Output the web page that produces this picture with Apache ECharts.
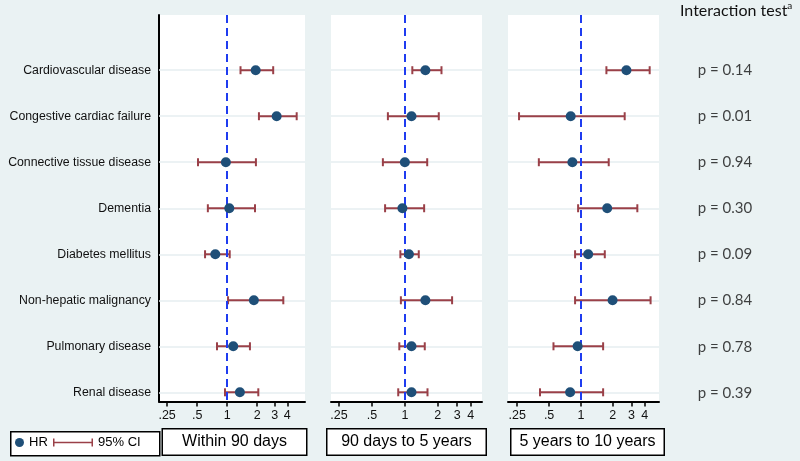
<!DOCTYPE html>
<html>
<head>
<meta charset="utf-8">
<script src="https://cdn.jsdelivr.net/npm/echarts@6/dist/echarts.min.js"></script>
<style>
  html, body { margin: 0; padding: 0; background: #eaf2f3; }
  #chart { width: 800px; height: 461px; }
</style>
</head>
<body>
<div id="chart"></div>
<script>
const categories = ['Cardiovascular disease', 'Congestive cardiac failure', 'Connective tissue disease',
  'Dementia', 'Diabetes mellitus', 'Non-hepatic malignancy', 'Pulmonary disease', 'Renal disease']
const panelNames = ['Within 90 days', '90 days to 5 years', '5 years to 10 years']

// hazard ratios and 95% CI per period
const hr90d = [1.93, 3.13, 0.97, 1.05, 0.76, 1.85, 1.15, 1.34]
const lo90d = [1.36, 2.08, 0.51, 0.64, 0.60, 1.02, 0.79, 0.95]
const hi90d = [2.89, 4.97, 1.94, 1.90, 1.06, 3.65, 1.69, 2.05]
const hr5y = [1.54, 1.15, 1.00, 0.95, 1.09, 1.54, 1.15, 1.15]
const lo5y = [1.17, 0.70, 0.63, 0.66, 0.91, 0.92, 0.89, 0.87]
const hi5y = [2.16, 2.04, 1.60, 1.50, 1.34, 2.70, 1.52, 1.61]
const hr10y = [2.69, 0.80, 0.83, 1.77, 1.17, 1.99, 0.93, 0.79]
const lo10y = [1.74, 0.26, 0.40, 0.94, 0.88, 0.88, 0.55, 0.41]
const hi10y = [4.46, 2.59, 1.83, 3.41, 1.68, 4.55, 1.62, 1.62]

const pValues = ['0.14', '0.01', '0.94', '0.30', '0.09', '0.84', '0.78', '0.39']

const tickValues = [0.25, 0.5, 1, 2, 3, 4]
const tickLabels = ['.25', '.5', '1', '2', '3', '4']

const hrSets = [hr90d, hr5y, hr10y]
const loSets = [lo90d, lo5y, lo10y]
const hiSets = [hi90d, hi5y, hi10y]

const navy = '#1f4f78'
const maroon = '#9a4048'
const gridLine = '#e6eef0'
const font = 'Liberation Sans'

const grids = [
  { left: 159, top: 15, width: 146, height: 387 },
  { left: 331, top: 15, width: 151, height: 387 },
  { left: 508, top: 15, width: 151, height: 387 },
  { left: 695, top: 15, width: 60, height: 387 }
]
const xRanges = [[-2.27, 2.59], [-2.24, 2.34], [-2.29, 2.45]]
const boxWidths = [143, 158, 152]
const boxShift = [5, 0, 8]

const rows = categories.map((c, i) => i)
const log2 = Math.log2

const tickLabel = v => {
  const k = tickValues.findIndex(t => Math.abs(log2(t) - v) < 1e-6)
  return k >= 0 ? tickLabels[k] : ''
}

const renderCI = (params, api) => {
  const lo = api.coord([api.value(0), api.value(1)])
  const hi = api.coord([api.value(2), api.value(1)])
  const h = 4
  const style = { stroke: maroon, lineWidth: 2 }
  return {
    type: 'group',
    children: [
      { type: 'line', shape: { x1: lo[0], y1: lo[1], x2: hi[0], y2: hi[1] }, style },
      { type: 'line', shape: { x1: lo[0], y1: lo[1] - h, x2: lo[0], y2: lo[1] + h }, style },
      { type: 'line', shape: { x1: hi[0], y1: hi[1] - h, x2: hi[0], y2: hi[1] + h }, style }
    ]
  }
}

const xAxes = panelNames.map((name, i) => ({
  type: 'value',
  gridIndex: i,
  min: xRanges[i][0],
  max: xRanges[i][1],
  name: (boxShift[i] ? '{sp|}' : '') + '{b|' + name + '}',
  nameLocation: 'middle',
  nameGap: 28,
  nameTextStyle: {
    rich: {
      sp: { width: boxShift[i], height: 25 },
      b: {
        fontFamily: font, fontSize: 16, color: '#000',
        width: boxWidths[i], height: 25, lineHeight: 25, align: 'center',
        backgroundColor: '#fff', borderColor: '#000', borderWidth: 1.5
      }
    }
  },
  axisLine: { show: true, onZero: false, lineStyle: { color: '#000', width: 2 } },
  axisTick: { show: true, length: 5, lineStyle: { color: '#000', width: 1.5 }, customValues: tickValues.map(log2) },
  axisLabel: { customValues: tickValues.map(log2), formatter: tickLabel, fontFamily: font, fontSize: 12.5, color: '#111', margin: 8 },
  splitLine: { show: false }
}))
xAxes.push({ type: 'value', gridIndex: 3, min: 0, max: 1, show: false })

const yAxes = grids.map((g, i) => ({
  type: 'value',
  gridIndex: i,
  min: -1.2,
  max: 7.2,
  inverse: true,
  show: i === 0,
  axisLine: { show: true, onZero: false, lineStyle: { color: '#000', width: 2 } },
  axisTick: { show: false },
  axisLabel: { customValues: rows, formatter: v => categories[v], fontFamily: font, fontSize: 12.3, color: '#111', margin: 8 },
  splitLine: { show: false }
}))

const series = []
panelNames.forEach((name, i) => {
  series.push({
    name: 'rows',
    type: 'line',
    xAxisIndex: i,
    yAxisIndex: i,
    data: [],
    silent: true,
    markLine: {
      silent: true, z: 1, symbol: ['none', 'none'], label: { show: false },
      lineStyle: { color: gridLine, width: 1.5, type: 'solid' },
      data: rows.map(r => ({ yAxis: r }))
    }
  })
  series.push({
    name: '95% CI',
    type: 'custom',
    xAxisIndex: i,
    yAxisIndex: i,
    z: 2,
    itemStyle: { color: maroon },
    renderItem: renderCI,
    encode: { x: [0, 2], y: 1 },
    data: rows.map(r => [log2(loSets[i][r]), r, log2(hiSets[i][r])]),
    markLine: {
      silent: true, z: 3, symbol: ['none', 'none'], label: { show: false },
      lineStyle: { color: '#1f3cf0', width: 2, type: [8, 5] },
      data: [{ xAxis: log2(1) }]
    }
  })
  series.push({
    name: 'HR',
    type: 'scatter',
    xAxisIndex: i,
    yAxisIndex: i,
    z: 4,
    symbol: 'circle',
    symbolSize: 10,
    itemStyle: { color: navy, opacity: 1 },
    data: rows.map(r => [log2(hrSets[i][r]), r])
  })
})
series.push({
  name: 'Interaction',
  type: 'scatter',
  xAxisIndex: 3,
  yAxisIndex: 3,
  symbolSize: 1,
  itemStyle: { color: 'rgba(0,0,0,0)' },
  label: {
    show: true, position: 'inside',
    formatter: p => 'p = ' + pValues[p.dataIndex],
    fontFamily: 'Lato', fontSize: 15, color: '#111'
  },
  data: rows.map(r => [0.5, r])
})

const chart = echarts.init(document.getElementById('chart'))
chart.setOption({
  animation: false,
  backgroundColor: '#eaf2f3',
  textStyle: { fontFamily: font },
  title: {
    text: '{a|Interaction test}{s|a}',
    left: 680,
    top: 1,
    padding: 0,
    textStyle: {
      fontWeight: 'normal',
      rich: {
        a: { fontFamily: 'Lato', fontSize: 16, fontWeight: 'normal', color: '#111', lineHeight: 20 },
        s: { fontFamily: 'Lato', fontSize: 10, fontWeight: 'normal', color: '#111', lineHeight: 12, verticalAlign: 'top' }
      }
    }
  },
  grid: grids.map((g, i) => Object.assign({ show: i < 3, backgroundColor: '#fff', borderWidth: 0 }, g)),
  xAxis: xAxes,
  yAxis: yAxes,
  graphic: [{
    type: 'rect', left: 10, top: 431, z: 0,
    shape: { width: 149, height: 24 },
    style: { fill: '#fff', stroke: '#000', lineWidth: 1.5 }
  }],
  legend: [
    {
      data: [{ name: 'HR', icon: 'circle' }],
      left: 15, top: 436, padding: 0, itemWidth: 9, itemHeight: 9,
      selectedMode: false,
      textStyle: { fontFamily: font, fontSize: 13, color: '#000' }
    },
    {
      data: [{ name: '95% CI', icon: 'path://M0,0h1.5v8h-1.5z M0,3.2h40v1.6h-40z M38.5,0h1.5v8h-1.5z' }],
      left: 53, top: 436, padding: 0, itemWidth: 40, itemHeight: 8,
      selectedMode: false,
      textStyle: { fontFamily: font, fontSize: 13, color: '#000' }
    }
  ],
  series
})
</script>
</body>
</html>
